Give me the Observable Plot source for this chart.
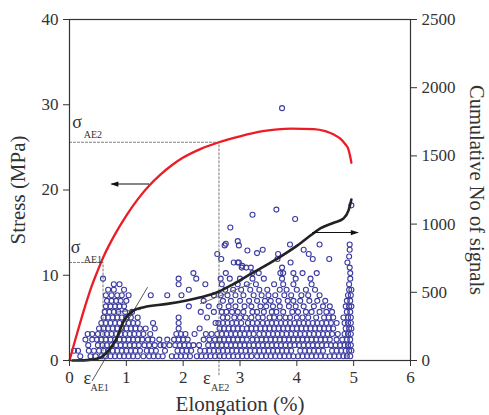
<!DOCTYPE html>
<html>
<head>
<meta charset="utf-8">
<script src="https://cdn.jsdelivr.net/npm/d3@7"></script>
<script src="https://cdn.jsdelivr.net/npm/@observablehq/plot@0.6"></script>
<style>
  html, body { margin: 0; padding: 0; background: #fff; }
</style>
</head>
<body>
<div id="chart"></div>
<script>
// Stress–elongation curve (left axis, MPa)
const elong  = [0, 0.1, 0.2, 0.3, 0.4, 0.5, 0.6, 0.8, 1.0, 1.2, 1.4, 1.6, 1.8, 2.0, 2.3, 2.63, 3.0, 3.4, 3.9, 4.3, 4.5, 4.65, 4.77, 4.85, 4.9, 4.93, 4.96];
const stress = [0, 2.4, 4.7, 6.9, 8.9, 10.6, 12.2, 14.8, 17.0, 18.9, 20.5, 21.8, 22.9, 23.8, 24.8, 25.6, 26.3, 26.9, 27.2, 27.15, 26.9, 26.5, 26.0, 25.4, 24.9, 24.2, 23.2];

// Cumulative number of AE signals (right axis)
const cumElong = [0.05, 0.3, 0.5, 0.6, 0.7, 0.81, 0.96, 1.13, 1.31, 1.72, 2.31, 2.60, 2.89, 3.19, 3.65, 4.0, 4.30, 4.42, 4.65, 4.82, 4.91, 4.96];
const cumN     = [0, 3, 15, 37, 80, 147, 293, 367, 391, 415, 464, 500, 562, 635, 745, 840, 935, 970, 1010, 1041, 1100, 1180];

// AE events (amplitude rows, plotted on the stress axis)
const levels = [0.5, 1.15, 1.8, 2.45, 3.1, 3.75, 4.4, 5.05, 5.7, 6.35, 7.0, 7.65, 8.3, 8.95, 9.6, 10.25, 10.9, 11.5];
const rows = [
  "0.19 0.37 0.46 0.56 0.64 0.72 0.80 0.88 0.96 1.04 1.12 1.20 1.30 1.40 1.48 1.56 1.64 1.80 1.88 1.96 2.04 2.12 2.24 2.32 2.40 2.48 2.56 2.64 2.72 2.80 2.88 2.96 3.04 3.12 3.20 3.30 3.38 3.46 3.54 3.62 3.70 3.78 3.86 3.94 4.02 4.10 4.18 4.26 4.34 4.42 4.50 4.58 4.66 4.74 4.82 4.88 4.94",
  "0.08 0.15 0.34 0.43 0.52 0.60 0.68 0.76 0.84 0.92 1.00 1.08 1.16 1.24 1.36 1.44 1.52 1.68 1.90 1.98 2.06 2.14 2.30 2.38 2.46 2.54 2.62 2.70 2.78 2.86 2.94 3.02 3.10 3.18 3.26 3.34 3.42 3.50 3.58 3.66 3.74 3.82 3.90 4.06 4.14 4.22 4.30 4.38 4.46 4.62 4.70 4.78 4.86 4.92 4.96",
  "0.33 0.50 0.58 0.66 0.74 0.82 0.90 0.98 1.06 1.14 1.22 1.32 1.40 1.50 1.60 1.66 1.76 1.86 1.94 2.02 2.10 2.18 2.28 2.44 2.52 2.60 2.68 2.76 2.84 2.92 3.00 3.08 3.16 3.24 3.32 3.40 3.48 3.56 3.64 3.72 3.80 3.88 3.96 4.04 4.12 4.20 4.28 4.36 4.44 4.52 4.60 4.68 4.76 4.84 4.90 4.95",
  "0.28 0.40 0.48 0.56 0.64 0.72 0.80 0.88 0.96 1.04 1.12 1.20 1.28 1.38 1.46 1.58 1.72 1.84 1.92 2.00 2.08 2.36 2.46 2.56 2.64 2.72 2.80 2.88 2.96 3.04 3.12 3.22 3.30 3.38 3.46 3.54 3.62 3.70 3.78 3.86 3.94 4.02 4.10 4.18 4.26 4.34 4.42 4.50 4.58 4.70 4.80 4.88 4.94",
  "0.32 0.40 0.50 0.58 0.66 0.74 0.82 0.90 0.98 1.06 1.14 1.22 1.30 1.42 1.88 1.96 2.04 2.20 2.40 2.50 2.60 2.68 2.76 2.84 2.92 3.00 3.08 3.16 3.24 3.34 3.42 3.50 3.58 3.66 3.74 3.82 3.90 3.98 4.06 4.14 4.22 4.30 4.38 4.46 4.54 4.62 4.72 4.84 4.90 4.95",
  "0.52 0.60 0.68 0.76 0.84 0.92 1.00 1.08 1.16 1.24 1.34 1.50 1.92 2.29 2.64 2.72 2.80 2.88 2.96 3.04 3.12 3.20 3.28 3.36 3.44 3.52 3.60 3.68 3.76 3.84 3.92 4.00 4.08 4.16 4.24 4.32 4.40 4.48 4.56 4.64 4.86 4.92 4.96",
  "0.56 0.64 0.72 0.80 0.88 0.96 1.04 1.12 1.20 1.47 1.92 2.57 2.62 2.70 2.78 2.86 2.94 3.02 3.14 3.22 3.30 3.40 3.48 3.56 3.64 3.72 3.80 3.88 3.96 4.04 4.12 4.20 4.28 4.36 4.44 4.52 4.60 4.70 4.84 4.90 4.95",
  "0.60 0.68 0.76 0.84 0.92 1.00 1.08 1.20 1.92 2.42 2.70 2.78 2.90 3.00 3.10 3.20 3.32 3.40 3.52 3.60 3.70 3.80 3.88 4.00 4.10 4.20 4.34 4.48 4.56 4.64 4.82 4.90 4.95",
  "0.62 0.70 0.78 0.86 0.98 1.10 2.31 2.54 2.68 2.76 2.86 2.96 3.06 3.22 3.30 3.42 3.56 3.64 3.76 3.92 4.02 4.16 4.26 4.40 4.52 4.62 4.88 4.94",
  "0.64 0.72 0.80 0.88 0.96 2.10 2.45 2.64 2.80 2.92 3.08 3.20 3.36 3.46 3.58 3.70 3.86 3.98 4.12 4.30 4.46 4.58 4.86 4.92 4.96",
  "0.66 0.74 0.82 0.90 1.00 2.36 2.70 2.84 3.00 3.16 3.30 3.44 3.54 3.68 3.84 3.94 4.06 4.22 4.36 4.50 4.88 4.94",
  "0.64 0.74 0.84 0.92 1.04 1.43 1.72 1.97 2.54 2.66 2.78 2.92 3.06 3.24 3.38 3.50 3.62 3.78 3.90 4.08 4.20 4.40 4.90 4.95",
  "0.68 0.78 0.96 2.10 2.74 2.88 3.02 3.18 3.34 3.48 3.70 3.82 4.00 4.16 4.32 4.92 4.96",
  "0.78 0.88 1.92 2.39 2.68 2.96 3.12 3.28 3.60 3.76 3.94 4.26 4.92",
  "0.59 1.92 2.23 2.66 2.82 3.00 3.22 3.42 3.74 3.98 4.24 4.94",
  "2.18 2.75 3.22 3.33 3.71 3.76 3.94 4.10 4.35 4.94",
  "3.03 3.11 3.19 3.74 4.93",
  "2.89 2.96 2.98 3.89 4.89"
];
const highX = [2.60, 2.67, 2.75, 2.73, 2.83, 2.96, 2.98, 3.04, 3.13, 3.22, 3.30, 3.40, 3.64, 3.66, 3.67, 3.74, 3.88, 3.97, 4.12, 4.21, 4.28, 4.40, 4.57, 4.93, 4.93, 4.96, 4.92];
const highY = [12.5, 11.9, 13.7, 13.5, 15.6, 14.0, 13.5, 11.1, 12.9, 17.1, 12.6, 13.0, 17.7, 11.9, 12.5, 29.6, 13.6, 16.6, 13.0, 12.5, 11.9, 13.6, 11.9, 13.6, 13.0, 18.2, 12.2];

// Axis ticks
const xTicks = [0, 1, 2, 3, 4, 5, 6];
const yTicks = [0, 10, 20, 30, 40];
const rightTicks = [0, 500, 1000, 1500, 2000, 2500];
const yMax = 40, rightMax = 2500;
const k = yMax / rightMax; // right-axis value -> left-axis units

// Characteristic points
const epsAE1 = 0.59, sigAE1 = 11.5;
const epsAE2 = 2.63, sigAE2 = 25.6;

// Build tables
const stressData = elong.map((e, i) => ({x: e, y: stress[i]}));
const cumData = cumElong.map((e, i) => ({x: e, y: cumN[i] * k}));
const events = rows.flatMap((s, i) => s.trim().split(/\s+/).map(v => ({x: +v, y: levels[i]})))
  .concat(highX.map((x, i) => ({x, y: highY[i]})));

const tangent1 = [{x: 0.40, y: -148 * k}, {x: 1.37, y: 535 * k}];
const tangent2 = [{x: 0.81, y: 354 * k}, {x: 1.25, y: 374 * k}];
const tangent3 = [{x: 2.30, y: 416 * k}, {x: 3.20, y: 565 * k}];

const dashes = [
  [{x: 0, y: sigAE2}, {x: epsAE2, y: sigAE2}, {x: epsAE2, y: -1.8}],
  [{x: 0, y: sigAE1}, {x: epsAE1, y: sigAE1}, {x: epsAE1, y: 0}]
];

const arrowHead = {
  draw(ctx) {
    ctx.moveTo(4, 0);
    ctx.lineTo(-4, -2.6);
    ctx.lineTo(-4, 2.6);
    ctx.closePath();
  }
};
const arrows = [
  {x1: 1.40, x2: 0.74, y: 20.7, hx: 0.79, rot: 180},
  {x1: 4.27, x2: 5.07, y: 938 * k, hx: 5.02, rot: 0}
];

const bigLabels = [
  {x: 0.05, y: 27.9, t: "σ"},
  {x: 0.02, y: 13.3, t: "σ"},
  {x: 0.246, y: -2.05, t: "ε"},
  {x: 2.35, y: -2.05, t: "ε"}
];
const subLabels = [
  {x: 0.25, y: 26.5, t: "AE2"},
  {x: 0.25, y: 11.8, t: "AE1"},
  {x: 0.37, y: -3.2, t: "AE1"},
  {x: 2.49, y: -3.2, t: "AE2"}
];

const serif = "'Liberation Serif', 'Times New Roman', serif";
const ink = "#333";

const chart = Plot.plot({
  width: 489,
  height: 415,
  marginLeft: 69,
  marginRight: 79,
  marginTop: 19,
  marginBottom: 55,
  x: {domain: [0, 6]},
  y: {domain: [0, yMax]},
  style: {fontFamily: serif, fontSize: "17px", color: ink, background: "#fff"},
  marks: [
    Plot.dot(events, {x: "x", y: "y", r: 2.5, stroke: "#3b3ba0", strokeWidth: 1.1, fill: "none"}),
    ...dashes.map(d => Plot.line(d, {x: "x", y: "y", stroke: "#555", strokeWidth: 0.8, strokeDasharray: "2,2"})),
    Plot.line(tangent1, {x: "x", y: "y", stroke: "#444", strokeWidth: 0.9}),
    Plot.line(tangent2, {x: "x", y: "y", stroke: "#555", strokeWidth: 0.9}),
    Plot.line(tangent3, {x: "x", y: "y", stroke: "#555", strokeWidth: 0.9}),
    Plot.line(stressData, {x: "x", y: "y", stroke: "#ec1c24", strokeWidth: 2.3, curve: "monotone-x"}),
    Plot.line(cumData, {x: "x", y: "y", stroke: "#222", strokeWidth: 2.6, curve: "monotone-x"}),
    Plot.link(arrows, {x1: "x1", x2: "x2", y1: "y", y2: "y", stroke: "#111", strokeWidth: 1.1}),
    Plot.dot(arrows, {x: "hx", y: "y", symbol: arrowHead, rotate: "rot", fill: "#111", stroke: "none"}),
    Plot.frame({stroke: ink, strokeWidth: 1.2}),
    Plot.axisX({ticks: xTicks, tickFormat: d => String(d), tickSize: 6, tickPadding: 4, label: null, fontSize: 17}),
    Plot.axisY({anchor: "left", ticks: yTicks, tickFormat: d => String(d), tickSize: 6, tickPadding: 5, label: null, fontSize: 17}),
    Plot.axisY({anchor: "right", ticks: rightTicks.map(v => v * k), tickFormat: v => String(Math.round(v / k)), tickSize: 6, tickPadding: 5, label: null, fontSize: 17}),
    Plot.text(bigLabels, {x: "x", y: "y", text: "t", textAnchor: "start", fontSize: 18, fill: ink}),
    Plot.text(subLabels, {x: "x", y: "y", text: "t", textAnchor: "start", fontSize: 10, fill: ink}),
    Plot.text(["Stress (MPa)"], {text: d => d, frameAnchor: "left", dx: -51, rotate: -90, textAnchor: "middle", lineAnchor: "middle", fontSize: 21, fill: ink}),
    Plot.text(["Cumulative No of signals"], {text: d => d, frameAnchor: "right", dx: 66, rotate: 90, textAnchor: "middle", lineAnchor: "middle", fontSize: 20.5, fill: ink}),
    Plot.text(["Elongation (%)"], {text: d => d, frameAnchor: "bottom", dy: 44, textAnchor: "middle", lineAnchor: "middle", fontSize: 21, fill: ink})
  ]
});
document.getElementById("chart").appendChild(chart);
</script>
</body>
</html>
